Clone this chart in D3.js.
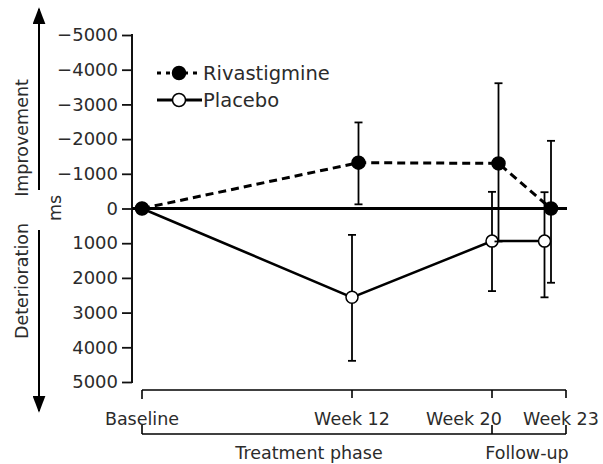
<!DOCTYPE html>
<html>
<head>
<meta charset="utf-8">
<script src="https://cdn.jsdelivr.net/npm/d3@7"></script>
<style>
body{margin:0;background:#fff;}
svg{display:block;}
text{font-family:"DejaVu Sans",sans-serif;fill:#2b2b2b;}
</style>
</head>
<body>
<svg id="chart"></svg>
<script>
// weeks from baseline
var weeks=[0,12,20,23];
var weekLabels=["Baseline","Week 12","Week 20","Week 23"];
var yTicks=[-5000,-4000,-3000,-2000,-1000,0,1000,2000,3000,4000,5000];

// change in ms (negative = improvement)
var rivaMean=[0,-1320,-1300,0];
var rivaLow=[0,-2480,-3610,-1950];
var rivaHigh=[0,-120,950,2140];

var placeboMean=[0,2560,940,940];
var placeboLow=[0,760,-480,-470];
var placeboHigh=[0,4390,2380,2560];

var phases=[{name:"Treatment phase",from:0,to:2},{name:"Follow-up",from:2,to:3}];

var initGraph=function()
    {
        var screen={width:603,height:464};
        var svg=d3.select("#chart")
            .attr("width",screen.width)
            .attr("height",screen.height);

        var xScale=d3.scaleLinear()
            .domain([0,23])
            .range([142,544.5]);
        var yScale=d3.scaleLinear()
            .domain([-5000,5000])
            .range([35,382]);
        var axisX=132, plotRight=567;

        drawAxes(svg,xScale,yScale,axisX,plotRight);
        drawSeries(svg,xScale,yScale);
        drawLegend(svg);
        drawTimeline(svg,xScale,plotRight);
        drawSideLabels(svg);
    }

var drawAxes=function(svg,xScale,yScale,axisX,plotRight)
    {
        var yAxis=d3.axisLeft(yScale)
            .tickValues(yTicks)
            .tickSize(10)
            .tickSizeOuter(0)
            .tickPadding(4)
            .tickFormat(d3.format("d"));
        var g=svg.append("g")
            .attr("transform","translate("+axisX+",0)")
            .call(yAxis);
        g.select(".domain").remove();
        g.selectAll(".tick line").attr("stroke","#111").attr("stroke-width",1.8);
        g.selectAll(".tick text")
            .style("font-size","18px")
            .style("font-family","'DejaVu Sans',sans-serif")
            .attr("fill","#2b2b2b");
        svg.append("line")
            .attr("x1",axisX).attr("x2",axisX)
            .attr("y1",yScale(-5000)-1).attr("y2",yScale(5000)+1)
            .attr("stroke","#111").attr("stroke-width",2);
        // zero line
        svg.append("line")
            .attr("x1",axisX).attr("x2",plotRight)
            .attr("y1",yScale(0)).attr("y2",yScale(0))
            .attr("stroke","#000").attr("stroke-width",3);
    }

var drawSeries=function(svg,xScale,yScale)
    {
        var series=[
            {name:"Rivastigmine",mean:rivaMean,low:rivaLow,high:rivaHigh,dodge:6.5,fill:"#000",dash:"8,5"},
            {name:"Placebo",mean:placeboMean,low:placeboLow,high:placeboHigh,dodge:0,fill:"#fff",dash:null}
        ];
        // placebo first so rivastigmine sits on top
        series.slice().reverse().forEach(function(s)
            {
                var pts=weeks.map(function(w,i)
                    {
                        return {x:xScale(w)+(w===0?0:s.dodge),m:s.mean[i],lo:s.low[i],hi:s.high[i]};
                    });
                var line=d3.line()
                    .x(function(d){return d.x;})
                    .y(function(d){return yScale(d.m);});
                svg.append("path")
                    .datum(pts)
                    .attr("d",line)
                    .attr("fill","none")
                    .attr("stroke","#000")
                    .attr("stroke-width",s.dash?3:2.5)
                    .attr("stroke-dasharray",s.dash);
                var bars=svg.append("g").selectAll("g")
                    .data(pts.filter(function(d){return d.lo!==d.hi;}))
                    .enter().append("g");
                bars.append("line")
                    .attr("x1",function(d){return d.x;})
                    .attr("x2",function(d){return d.x;})
                    .attr("y1",function(d){return yScale(d.lo);})
                    .attr("y2",function(d){return yScale(d.hi);})
                    .attr("stroke","#000").attr("stroke-width",1.8);
                [function(d){return d.lo;},function(d){return d.hi;}].forEach(function(f)
                    {
                        bars.append("line")
                            .attr("x1",function(d){return d.x-4;})
                            .attr("x2",function(d){return d.x+4;})
                            .attr("y1",function(d){return yScale(f(d));})
                            .attr("y2",function(d){return yScale(f(d));})
                            .attr("stroke","#000").attr("stroke-width",1.8);
                    });
                svg.append("g").selectAll("circle")
                    .data(pts)
                    .enter()
                    .append("circle")
                    .attr("cx",function(d){return d.x;})
                    .attr("cy",function(d){return yScale(d.m);})
                    .attr("r",s.fill==="#000"?6.5:6)
                    .attr("fill",s.fill)
                    .attr("stroke","#000")
                    .attr("stroke-width",1.5);
            });
    }

var drawLegend=function(svg)
    {
        var items=[{name:"Rivastigmine",fill:"#000",dash:"4,5"},{name:"Placebo",fill:"#fff",dash:null}];
        var g=svg.append("g").selectAll("g")
            .data(items)
            .enter()
            .append("g")
            .attr("transform",function(d,i){return "translate(157,"+(73+i*27)+")";});
        g.append("line")
            .attr("x1",0).attr("x2",45)
            .attr("stroke","#000")
            .attr("stroke-width",3)
            .attr("stroke-dasharray",function(d){return d.dash;});
        g.append("circle")
            .attr("cx",22).attr("r",6.5)
            .attr("fill",function(d){return d.fill;})
            .attr("stroke","#000").attr("stroke-width",1.5);
        g.append("text")
            .attr("x",46)
            .attr("dy","0.35em")
            .style("font-size","19.5px")
            .text(function(d){return d.name;});
    }

var drawTimeline=function(svg,xScale,plotRight)
    {
        var tickX=weeks.map(function(w,i){return i===weeks.length-1?plotRight-1:xScale(w);});
        var top=390, bottom=434;
        var g=svg.append("g").attr("stroke","#000").attr("stroke-width",1.6);
        g.append("line").attr("x1",tickX[0]).attr("x2",tickX[3]).attr("y1",top).attr("y2",top);
        g.selectAll(".tt").data(tickX).enter().append("line")
            .attr("x1",function(d){return d;}).attr("x2",function(d){return d;})
            .attr("y1",top).attr("y2",function(d,i){return i===0?top+9:top+8;});
        g.append("line").attr("x1",tickX[0]).attr("x2",tickX[3]).attr("y1",bottom).attr("y2",bottom);
        g.selectAll(".bt").data([tickX[0],tickX[2],tickX[3]]).enter().append("line")
            .attr("x1",function(d){return d;}).attr("x2",function(d){return d;})
            .attr("y1",bottom-9).attr("y2",bottom);

        var nudge=[0,0,-28,-5];
        svg.append("g").selectAll("text")
            .data(weekLabels)
            .enter()
            .append("text")
            .attr("x",function(d,i){return tickX[i]+nudge[i];})
            .attr("y",425)
            .attr("text-anchor","middle")
            .style("font-size","17.5px")
            .text(function(d){return d;});
        svg.append("g").selectAll("text")
            .data(phases)
            .enter()
            .append("text")
            .attr("x",function(d){return (tickX[d.from]+tickX[d.to])/2-(d.from===0?8:2);})
            .attr("y",459)
            .attr("text-anchor","middle")
            .style("font-size","17.5px")
            .text(function(d){return d.name;});
    }

var drawSideLabels=function(svg)
    {
        var defs=svg.append("defs");
        defs.append("marker")
            .attr("id","head")
            .attr("viewBox","0 0 10 10")
            .attr("preserveAspectRatio","none")
            .attr("refX",9).attr("refY",5)
            .attr("markerWidth",8.5).attr("markerHeight",6.5)
            .attr("markerUnits","strokeWidth")
            .attr("orient","auto")
            .append("path")
            .attr("d","M0,0L10,5L0,10Z")
            .attr("fill","#000");
        svg.append("line")
            .attr("x1",39).attr("x2",39).attr("y1",190).attr("y2",9)
            .attr("stroke","#000").attr("stroke-width",2)
            .attr("marker-end","url(#head)");
        svg.append("line")
            .attr("x1",39).attr("x2",39).attr("y1",230).attr("y2",411)
            .attr("stroke","#000").attr("stroke-width",2)
            .attr("marker-end","url(#head)");
        var labels=[{t:"Improvement",x:22,y:138,s:17.5},{t:"Deterioration",x:22,y:281,s:17.5},{t:"ms",x:55,y:208,s:17.5}];
        svg.append("g").selectAll("text")
            .data(labels)
            .enter()
            .append("text")
            .attr("transform",function(d){return "translate("+d.x+","+d.y+") rotate(-90)";})
            .attr("text-anchor","middle")
            .attr("dy","0.35em")
            .style("font-size",function(d){return d.s+"px";})
            .text(function(d){return d.t;});
    }

initGraph();
</script>
</body>
</html>
